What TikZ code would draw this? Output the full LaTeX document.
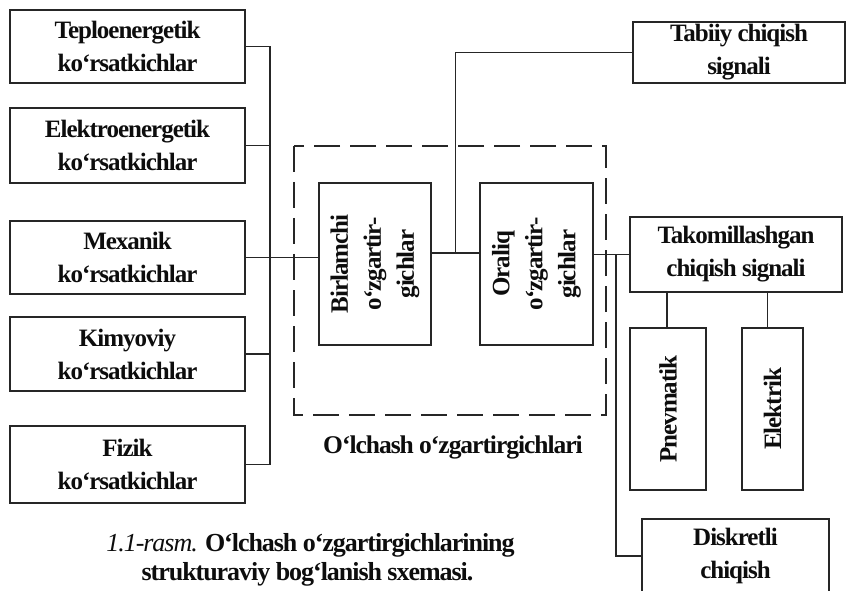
\documentclass[tikz,border=0pt]{standalone}
\usepackage{fontspec}
\setmainfont{Liberation Serif}[LetterSpace=-4]
\usetikzlibrary{calc}

\begin{document}
\begin{tikzpicture}[x=1pt, y=-1pt, line width=1.9pt, black!85,
  box/.style={draw, rectangle, align=center, inner sep=0pt, text=black!95,
    font=\fontsize{25}{33}\selectfont\bfseries},
  vbox/.style={box, rotate=90},
  label/.style={text=black!95, anchor=base, font=\fontsize{26}{29}\selectfont}]
\useasboundingbox (0,0) rectangle (847,591);

% Ko'rsatkichlar
\node[box, minimum width=235, minimum height=73] (teplo) at (127.5, 46.5) {Teploenergetik\\ko‘rsatkichlar};
\node[box, minimum width=235, minimum height=75] (elektro) at (127.5, 145.5) {Elektroenergetik\\ko‘rsatkichlar};
\node[box, minimum width=235, minimum height=73] (mexanik) at (127.5, 257.5) {Mexanik\\ko‘rsatkichlar};
\node[box, minimum width=235, minimum height=74] (kimyo) at (127.5, 354) {Kimyoviy\\ko‘rsatkichlar};
\node[box, minimum width=235, minimum height=77] (fizik) at (127.5, 464.5) {Fizik\\ko‘rsatkichlar};

% O'zgartirgichlar
\node[vbox, minimum width=162, minimum height=112] (birl) at (375, 264) {Birlamchi\\o‘zgartir-\\gichlar};
\node[vbox, minimum width=162, minimum height=113] (orl) at (536.5, 264) {Oraliq\\o‘zgartir-\\gichlar};
\draw[dash pattern=on 26pt off 10pt] (294, 146) rectangle (606, 415);
\node[label, font=\fontsize{25.5}{29}\selectfont\bfseries] (olch) at (453, 453) {O‘lchash o‘zgartirgichlari};

% Chiqish signallari
\node[box, minimum width=212, minimum height=61] (tabiiy) at (739, 52.5) {Tabiiy chiqish\\signali};
\node[box, minimum width=212, minimum height=75] (takom) at (736, 254.5) {Takomillashgan\\chiqish signali};
\node[vbox, minimum width=162, minimum height=76] (pnev) at (668, 409) {Pnevmatik};
\node[vbox, minimum width=162, minimum height=61] (elek) at (772.5, 409) {Elektrik};
\node[box, minimum width=187, minimum height=74] (disk) at (735.5, 556) {Diskretli\\chiqish};

% Ulanishlar (vbox: north = chap, south = o'ng, east = yuqori)
\draw (teplo.east) -- ++(24, 0) |- (fizik.east);
\draw (elektro.east) -- ++(24, 0);
\draw (kimyo.east) -- ++(24, 0);
\draw (mexanik.east) -- (mexanik.east -| birl.north);
\coordinate (jn) at ($([yshift=11pt]birl.south)!0.5!([yshift=11pt]orl.north)$);
\draw ([yshift=11pt]birl.south) -- ([yshift=11pt]orl.north);
\draw (jn) |- (tabiiy.west);
\draw (takom.west -| orl.south) -- (takom.west);
\coordinate[xshift=-13pt] (tap) at (takom.west);
\draw (tap) |- (disk.west);
\draw ([xshift=-1pt]pnev.east) -- ([xshift=-1pt]pnev.east |- takom.south);
\draw ([xshift=-5pt]elek.east) -- ([xshift=-5pt]elek.east |- takom.south);

% Rasm nomi
\node[label] (capa) at (310.5, 551) {\itshape 1.1-rasm. \upshape\bfseries O‘lchash o‘zgartirgichlarining};
\node[label, font=\fontsize{26}{29}\selectfont\bfseries] (capb) at (307.5, 580) {strukturaviy bog‘lanish sxemasi.};
\end{tikzpicture}
\end{document}
